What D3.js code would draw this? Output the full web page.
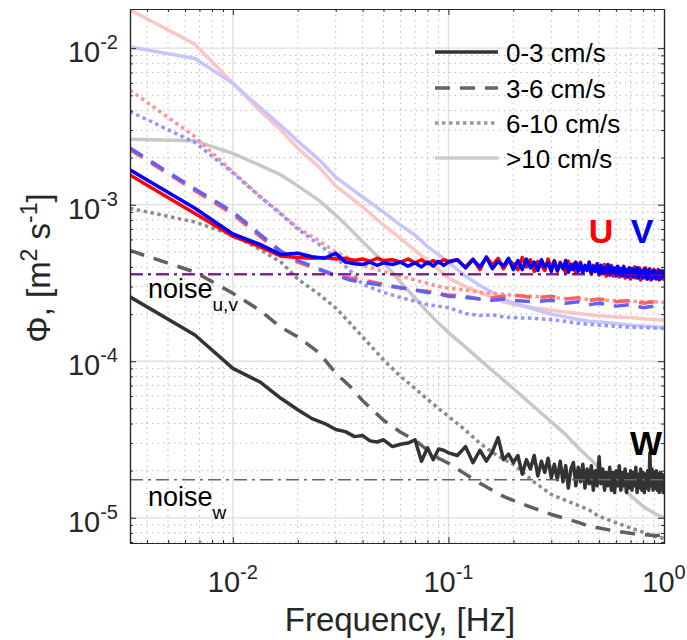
<!DOCTYPE html>
<html>
<head>
<meta charset="utf-8">
<script src="https://cdn.jsdelivr.net/npm/d3@7"></script>
<style>
  body { margin: 0; background: #fff; }
  svg text { font-family: "Liberation Sans", Arial, Helvetica, sans-serif; fill: #262626; }
</style>
</head>
<body>
<script>
// ---- data ----
const X_DOMAIN = [1 / 300, 1];
const Y_DOMAIN = [6.9e-6, 1.78e-2];

// fine frequency grid used by the 0-3 cm/s spectra
const FREQ = [0.00333, 0.00667, 0.01, 0.0133, 0.0167, 0.02, 0.0233, 0.0267, 0.03, 0.0333, 0.0367, 0.04, 0.0433, 0.0467, 0.05,
  0.055, 0.06, 0.065, 0.07, 0.075, 0.08, 0.085, 0.09, 0.095, 0.1,
  0.11, 0.12, 0.13, 0.14, 0.15, 0.16, 0.17, 0.18, 0.19, 0.2,
  0.21, 0.22, 0.23, 0.24, 0.25, 0.26, 0.27, 0.28, 0.29, 0.3,
  0.31, 0.32, 0.33, 0.34, 0.35, 0.36, 0.37, 0.38, 0.39, 0.4,
  0.41, 0.42, 0.43, 0.44, 0.45, 0.46, 0.47, 0.48, 0.49, 0.5,
  0.51, 0.52, 0.53, 0.54, 0.55, 0.56, 0.57, 0.58, 0.59, 0.6,
  0.61, 0.62, 0.63, 0.64, 0.65, 0.66, 0.67, 0.68, 0.69, 0.7,
  0.71, 0.72, 0.73, 0.74, 0.75, 0.76, 0.77, 0.78, 0.79, 0.8,
  0.81, 0.82, 0.83, 0.84, 0.85, 0.86, 0.87, 0.88, 0.89, 0.9,
  0.91, 0.92, 0.93, 0.94, 0.95, 0.96, 0.97, 0.98, 0.99, 1.0];

const U_0_3 = [1.55e-3, 8.8e-4, 6.3e-4, 5.4e-4, 4.7e-4, 4.6e-4, 4.55e-4, 4.6e-4, 4.5e-4, 4.55e-4, 4.4e-4, 4.5e-4, 4.35e-4, 4.55e-4, 4.4e-4,
  4.45e-4, 4.3e-4, 4.5e-4, 4.25e-4, 4.45e-4, 4.2e-4, 4.4e-4, 4.25e-4, 4.45e-4, 4.35e-4,
  4.45e-4, 4.0e-4, 4.5e-4, 3.85e-4, 4.65e-4, 4.1e-4, 4.55e-4, 3.9e-4, 4.4e-4, 4.2e-4,
  3.85e-4, 4.6e-4, 4.0e-4, 4.45e-4, 3.75e-4, 4.35e-4, 4.1e-4, 3.8e-4, 4.5e-4, 3.9e-4,
  4.4e-4, 3.75e-4, 4.3e-4, 3.95e-4, 3.7e-4, 4.35e-4, 3.85e-4, 4.2e-4, 3.65e-4, 4.1e-4,
  4.3e-4, 3.7e-4, 4.0e-4, 3.85e-4, 4.25e-4, 3.6e-4, 4.1e-4, 3.75e-4, 4.2e-4, 3.55e-4,
  4.05e-4, 3.7e-4, 4.15e-4, 3.5e-4, 3.95e-4, 3.75e-4, 4.1e-4, 3.5e-4, 3.9e-4, 3.65e-4,
  4.0e-4, 3.45e-4, 3.85e-4, 3.7e-4, 4.05e-4, 3.4e-4, 3.8e-4, 3.6e-4, 3.95e-4, 3.35e-4,
  3.85e-4, 3.6e-4, 4.0e-4, 3.4e-4, 3.75e-4, 3.55e-4, 3.95e-4, 3.3e-4, 3.8e-4, 3.5e-4,
  3.7e-4, 3.95e-4, 3.35e-4, 3.75e-4, 3.5e-4, 3.9e-4, 3.3e-4, 3.7e-4, 3.55e-4, 3.85e-4,
  3.4e-4, 3.75e-4, 3.5e-4, 3.85e-4, 3.3e-4, 3.65e-4, 3.45e-4, 3.8e-4, 3.35e-4, 3.6e-4];

const V_0_3 = [1.67e-3, 9.5e-4, 6.5e-4, 5.6e-4, 4.8e-4, 4.9e-4, 4.65e-4, 4.55e-4, 4.9e-4, 4.3e-4, 4.2e-4, 4.15e-4, 4.3e-4, 4.1e-4, 4.25e-4,
  4.15e-4, 4.3e-4, 4.05e-4, 4.25e-4, 4.0e-4, 4.3e-4, 4.05e-4, 4.35e-4, 4.1e-4, 4.3e-4,
  4.45e-4, 3.95e-4, 4.45e-4, 4.0e-4, 4.6e-4, 3.9e-4, 4.35e-4, 4.05e-4, 4.55e-4, 3.85e-4,
  4.4e-4, 3.85e-4, 4.5e-4, 3.95e-4, 4.3e-4, 3.8e-4, 4.45e-4, 4.0e-4, 4.25e-4, 3.75e-4,
  4.35e-4, 3.8e-4, 4.2e-4, 3.9e-4, 4.4e-4, 3.7e-4, 4.15e-4, 3.85e-4, 4.3e-4, 3.75e-4,
  4.2e-4, 3.7e-4, 4.1e-4, 3.8e-4, 4.3e-4, 3.65e-4, 4.05e-4, 3.75e-4, 4.2e-4, 3.6e-4,
  4.1e-4, 3.65e-4, 3.95e-4, 3.75e-4, 4.15e-4, 3.55e-4, 4.0e-4, 3.7e-4, 3.95e-4, 3.5e-4,
  4.05e-4, 3.6e-4, 3.9e-4, 3.5e-4, 4.0e-4, 3.55e-4, 3.85e-4, 3.45e-4, 3.95e-4, 3.55e-4,
  3.9e-4, 3.45e-4, 3.8e-4, 3.55e-4, 3.95e-4, 3.4e-4, 3.85e-4, 3.5e-4, 3.75e-4, 3.4e-4,
  3.9e-4, 3.45e-4, 3.75e-4, 3.35e-4, 3.85e-4, 3.5e-4, 3.7e-4, 3.35e-4, 3.8e-4, 3.45e-4,
  3.75e-4, 3.35e-4, 3.7e-4, 3.5e-4, 3.8e-4, 3.35e-4, 3.65e-4, 3.45e-4, 3.75e-4, 3.4e-4];

const W_0_3 = [2.58e-4, 1.47e-4, 9.0e-5, 7.4e-5, 5.8e-5, 4.9e-5, 4.3e-5, 4.0e-5, 3.66e-5, 3.55e-5, 3.3e-5, 3.35e-5, 3.1e-5, 3.05e-5, 3.15e-5,
  2.85e-5, 2.95e-5, 3.0e-5, 3.15e-5, 2.3e-5, 2.8e-5, 2.35e-5, 2.75e-5, 2.7e-5, 2.6e-5,
  2.5e-5, 2.85e-5, 2.25e-5, 2.7e-5, 2.3e-5, 2.65e-5, 3.25e-5, 2.35e-5, 2.55e-5, 2.25e-5,
  2.5e-5, 1.9e-5, 2.35e-5, 2.05e-5, 2.5e-5, 1.85e-5, 2.3e-5, 1.95e-5, 2.4e-5, 1.8e-5,
  2.2e-5, 1.75e-5, 2.3e-5, 1.7e-5, 2.15e-5, 1.55e-5, 2.05e-5, 2.25e-5, 1.6e-5, 2.1e-5,
  1.7e-5, 2.2e-5, 1.55e-5, 2.05e-5, 1.65e-5, 2.15e-5, 1.5e-5, 2.0e-5, 1.6e-5, 2.45e-5,
  1.65e-5, 2.05e-5, 1.5e-5, 1.95e-5, 1.6e-5, 2.1e-5, 1.5e-5, 1.95e-5, 1.45e-5, 2.0e-5,
  1.6e-5, 2.15e-5, 1.5e-5, 1.95e-5, 1.6e-5, 2.05e-5, 1.45e-5, 1.9e-5, 1.55e-5, 2.0e-5,
  1.5e-5, 1.95e-5, 1.6e-5, 2.1e-5, 1.45e-5, 1.9e-5, 1.55e-5, 2.05e-5, 1.5e-5, 1.95e-5,
  1.45e-5, 1.9e-5, 1.55e-5, 2.0e-5, 1.5e-5, 2.6e-5, 1.6e-5, 2.05e-5, 1.5e-5, 1.95e-5,
  1.55e-5, 2.0e-5, 1.5e-5, 1.9e-5, 1.45e-5, 1.95e-5, 1.55e-5, 1.9e-5, 1.45e-5, 1.8e-5];

// coarser grid for the other speed classes
const FREQ_MID = [0.00333, 0.00667, 0.01, 0.0133, 0.0167, 0.02, 0.025, 0.03, 0.035, 0.04, 0.05, 0.06, 0.07, 0.08, 0.09, 0.1,
  0.12, 0.14, 0.16, 0.18, 0.2, 0.25, 0.3, 0.35, 0.4, 0.45, 0.5, 0.6, 0.7, 0.8, 0.9, 1.0];

const U_3_6 = [2.25e-3, 1.23e-3, 8.7e-4, 6.3e-4, 4.9e-4, 4.3e-4, 3.85e-4, 3.5e-4, 3.4e-4, 3.3e-4, 3.1e-4, 2.95e-4, 2.85e-4, 2.8e-4, 2.7e-4, 2.65e-4,
  2.6e-4, 2.5e-4, 2.55e-4, 2.6e-4, 2.65e-4, 2.55e-4, 2.6e-4, 2.5e-4, 2.55e-4, 2.45e-4, 2.5e-4, 2.4e-4, 2.45e-4, 2.35e-4, 2.4e-4, 2.35e-4];
const V_3_6 = [2.3e-3, 1.26e-3, 9.0e-4, 6.5e-4, 5.05e-4, 4.4e-4, 3.9e-4, 3.55e-4, 3.3e-4, 3.2e-4, 3.05e-4, 2.95e-4, 2.85e-4, 2.75e-4, 2.7e-4, 2.6e-4,
  2.55e-4, 2.5e-4, 2.45e-4, 2.5e-4, 2.45e-4, 2.4e-4, 2.45e-4, 2.35e-4, 2.4e-4, 2.3e-4, 2.35e-4, 2.25e-4, 2.3e-4, 2.2e-4, 2.25e-4, 2.2e-4];
const W_3_6 = [5.1e-4, 3.71e-4, 2.72e-4, 2.12e-4, 1.65e-4, 1.43e-4, 1.14e-4, 8.4e-5, 6.9e-5, 5.6e-5, 4.2e-5, 3.52e-5, 3.13e-5, 2.7e-5, 2.4e-5, 2.23e-5,
  1.9e-5, 1.66e-5, 1.5e-5, 1.37e-5, 1.29e-5, 1.15e-5, 1.05e-5, 9.9e-6, 9.35e-6, 8.8e-6, 8.6e-6, 8.2e-6, 7.96e-6, 7.8e-6, 7.7e-6, 7.7e-6];

const U_6_10 = [5.4e-3, 2.72e-3, 1.62e-3, 1.14e-3, 8.8e-4, 7.1e-4, 5.9e-4, 5.0e-4, 4.5e-4, 4.1e-4, 3.75e-4, 3.5e-4, 3.3e-4, 3.15e-4, 3.0e-4, 2.93e-4,
  2.85e-4, 2.75e-4, 2.72e-4, 2.68e-4, 2.63e-4, 2.6e-4, 2.55e-4, 2.52e-4, 2.5e-4, 2.48e-4, 2.46e-4, 2.44e-4, 2.42e-4, 2.4e-4, 2.4e-4, 2.38e-4];
const V_6_10 = [3.94e-3, 2.5e-3, 1.6e-3, 1.13e-3, 8.7e-4, 7.0e-4, 5.6e-4, 4.6e-4, 3.8e-4, 3.1e-4, 2.75e-4, 2.55e-4, 2.42e-4, 2.3e-4, 2.25e-4, 2.2e-4,
  2.02e-4, 1.96e-4, 1.98e-4, 1.92e-4, 1.9e-4, 1.88e-4, 1.84e-4, 1.8e-4, 1.75e-4, 1.72e-4, 1.7e-4, 1.67e-4, 1.65e-4, 1.64e-4, 1.63e-4, 1.62e-4];
const W_6_10 = [9.5e-4, 7.75e-4, 6.4e-4, 5.2e-4, 4.3e-4, 3.35e-4, 2.69e-4, 2.19e-4, 1.75e-4, 1.43e-4, 1.02e-4, 8.0e-5, 6.7e-5, 5.7e-5, 5.0e-5, 4.45e-5,
  3.62e-5, 2.99e-5, 2.62e-5, 2.37e-5, 2.2e-5, 1.69e-5, 1.41e-5, 1.29e-5, 1.2e-5, 1.12e-5, 1.02e-5, 9.3e-6, 8.6e-6, 8.1e-6, 7.6e-6, 7.4e-6];

const U_10 = [1.76e-2, 1.06e-2, 5.97e-3, 4.0e-3, 3.0e-3, 2.3e-3, 1.75e-3, 1.32e-3, 1.12e-3, 9.7e-4, 7.4e-4, 6.1e-4, 5.1e-4, 4.4e-4, 3.85e-4, 3.4e-4,
  3.0e-4, 2.75e-4, 2.55e-4, 2.4e-4, 2.3e-4, 2.2e-4, 2.12e-4, 2.06e-4, 2.02e-4, 1.98e-4, 1.95e-4, 1.92e-4, 1.9e-4, 1.87e-4, 1.85e-4, 1.83e-4];
const V_10 = [1.02e-2, 8.6e-3, 5.97e-3, 4.2e-3, 3.2e-3, 2.55e-3, 1.95e-3, 1.5e-3, 1.28e-3, 1.12e-3, 8.97e-4, 7.4e-4, 6.4e-4, 5.4e-4, 4.8e-4, 4.3e-4,
  3.5e-4, 3.05e-4, 2.75e-4, 2.5e-4, 2.35e-4, 2.15e-4, 2.0e-4, 1.92e-4, 1.85e-4, 1.8e-4, 1.78e-4, 1.74e-4, 1.7e-4, 1.68e-4, 1.66e-4, 1.65e-4];
const W_10 = [2.62e-3, 2.56e-3, 2.13e-3, 1.79e-3, 1.55e-3, 1.32e-3, 1.07e-3, 8.6e-4, 7.0e-4, 5.8e-4, 4.3e-4, 3.2e-4, 2.53e-4, 2.06e-4, 1.75e-4, 1.53e-4,
  1.23e-4, 1.02e-4, 8.7e-5, 7.6e-5, 6.7e-5, 5.1e-5, 4.1e-5, 3.4e-5, 2.8e-5, 2.4e-5, 2.1e-5, 1.69e-5, 1.39e-5, 1.18e-5, 1.07e-5, 1.0e-5];

const NOISE_UV = 3.6e-4;
const NOISE_W = 1.75e-5;

const X_TICKS = [0.01, 0.1, 1];
const X_TICK_EXP = ['-2', '-1', '0'];
const Y_TICKS = [1e-5, 1e-4, 1e-3, 1e-2];
const Y_TICK_EXP = ['-5', '-4', '-3', '-2'];
const LEGEND_LABELS = ['0-3 cm/s', '3-6 cm/s', '6-10 cm/s', '>10 cm/s'];

// ---- chart ----
const w = 687, h = 640;
const pLeft = 130, pRight = 664, pTop = 9, pBottom = 543;

const svg = d3.select('body').append('svg')
  .attr('width', w)
  .attr('height', h);

const x = d3.scaleLog().domain(X_DOMAIN).range([pLeft, pRight]);
const y = d3.scaleLog().domain(Y_DOMAIN).range([pBottom, pTop]);

const isDecade = v => Math.abs(Math.log10(v) - Math.round(Math.log10(v))) < 1e-6;
const xMinor = x.ticks().filter(t => !isDecade(t) && t > X_DOMAIN[0] && t < X_DOMAIN[1]);
const yMinor = y.ticks().filter(t => !isDecade(t) && t > Y_DOMAIN[0] && t < Y_DOMAIN[1]);

// grid
const grid = svg.append('g');
grid.selectAll('.gx-minor').data(xMinor).enter().append('line')
  .attr('x1', d => x(d)).attr('x2', d => x(d)).attr('y1', pTop).attr('y2', pBottom)
  .attr('stroke', '#bcbcbc').attr('stroke-dasharray', '1.5,4').attr('stroke-width', 1);
grid.selectAll('.gy-minor').data(yMinor).enter().append('line')
  .attr('y1', d => y(d)).attr('y2', d => y(d)).attr('x1', pLeft).attr('x2', pRight)
  .attr('stroke', '#bcbcbc').attr('stroke-dasharray', '1.5,4').attr('stroke-width', 1);
grid.selectAll('.gx').data(X_TICKS.slice(0, -1)).enter().append('line')
  .attr('x1', d => x(d)).attr('x2', d => x(d)).attr('y1', pTop).attr('y2', pBottom)
  .attr('stroke', '#dedede').attr('stroke-width', 1.3);
grid.selectAll('.gy').data(Y_TICKS).enter().append('line')
  .attr('y1', d => y(d)).attr('y2', d => y(d)).attr('x1', pLeft).attr('x2', pRight)
  .attr('stroke', '#dedede').attr('stroke-width', 1.3);

// clip
svg.append('clipPath').attr('id', 'plot-clip')
  .append('rect').attr('x', pLeft).attr('y', pTop).attr('width', pRight - pLeft).attr('height', pBottom - pTop);

const DASHED = '15,10';
const DOTTED = '3.5,3.5';

const SERIES = [
  { f: FREQ_MID, v: U_10, color: '#ffc4c4', dash: null },
  { f: FREQ_MID, v: V_10, color: '#c6c6ff', dash: null },
  { f: FREQ_MID, v: W_10, color: '#c8c8c8', dash: null },
  { f: FREQ_MID, v: U_6_10, color: '#ff9494', dash: DOTTED },
  { f: FREQ_MID, v: V_6_10, color: '#9494ff', dash: DOTTED },
  { f: FREQ_MID, v: W_6_10, color: '#8c8c8c', dash: DOTTED },
  { f: FREQ_MID, v: U_3_6, color: '#ff6060', dash: DASHED },
  { f: FREQ_MID, v: V_3_6, color: '#6060ff', dash: DASHED },
  { f: FREQ_MID, v: W_3_6, color: '#606060', dash: DASHED },
  { f: FREQ, v: U_0_3, color: '#ff0000', dash: null },
  { f: FREQ, v: V_0_3, color: '#0000ff', dash: null },
  { f: FREQ, v: W_0_3, color: '#333333', dash: null }
];

const line = d3.line().x(d => x(d[0])).y(d => y(d[1]));
const plot = svg.append('g').attr('clip-path', 'url(#plot-clip)');

SERIES.forEach(s => {
  plot.append('path')
    .datum(s.f.map((f, i) => [f, s.v[i]]))
    .attr('d', line)
    .attr('fill', 'none')
    .attr('stroke', s.color)
    .attr('stroke-width', 3.5)
    .attr('stroke-linejoin', 'round')
    .attr('stroke-dasharray', s.dash);
});

// noise levels
const DASHDOT = '13,5,3,5';
plot.append('line')
  .attr('x1', x(X_DOMAIN[0])).attr('x2', x(X_DOMAIN[1]))
  .attr('y1', y(NOISE_UV) + 0.7).attr('y2', y(NOISE_UV) + 0.7)
  .attr('stroke', '#ff0000').attr('stroke-width', 1.4).attr('stroke-dasharray', DASHDOT);
plot.append('line')
  .attr('x1', x(X_DOMAIN[0])).attr('x2', x(X_DOMAIN[1]))
  .attr('y1', y(NOISE_UV) - 0.3).attr('y2', y(NOISE_UV) - 0.3)
  .attr('stroke', '#0000ff').attr('stroke-width', 1.4).attr('stroke-dasharray', DASHDOT);
plot.append('line')
  .attr('x1', x(X_DOMAIN[0])).attr('x2', x(X_DOMAIN[1]))
  .attr('y1', y(NOISE_W)).attr('y2', y(NOISE_W))
  .attr('stroke', '#666666').attr('stroke-width', 1.5).attr('stroke-dasharray', DASHDOT);

// noise labels
const nuv = svg.append('text').attr('x', 148).attr('y', y(NOISE_UV) + 24)
  .attr('font-size', 27).style('fill', '#000');
nuv.append('tspan').text('noise');
nuv.append('tspan').attr('dy', 13).attr('font-size', 19).text('u,v');

const nw = svg.append('text').attr('x', 148).attr('y', y(NOISE_W) + 26)
  .attr('font-size', 27).style('fill', '#000');
nw.append('tspan').text('noise');
nw.append('tspan').attr('dy', 13).attr('font-size', 19).text('w');

// component labels
svg.append('text').attr('x', 601).attr('y', 243).attr('text-anchor', 'middle')
  .attr('font-size', 34).attr('font-weight', 'bold').style('fill', '#ff0000').text('U');
svg.append('text').attr('x', 642).attr('y', 243).attr('text-anchor', 'middle')
  .attr('font-size', 34).attr('font-weight', 'bold').style('fill', '#0000ff').text('V');
svg.append('text').attr('x', 646).attr('y', 455).attr('text-anchor', 'middle')
  .attr('font-size', 34).attr('font-weight', 'bold').style('fill', '#000').text('W');

// axes (ticks inside, box)
const axes = svg.append('g').attr('fill', 'none');
const tickAxis = (gen, scale, vals, size, tr) => {
  axes.append('g').attr('transform', tr)
    .call(gen(scale).tickValues(vals).tickSize(-size).tickSizeOuter(0).tickFormat(''))
    .call(g => g.select('.domain').attr('stroke', '#262626').attr('stroke-width', 1.2))
    .call(g => g.selectAll('.tick line').attr('stroke', '#262626'));
};
tickAxis(d3.axisBottom, x, X_TICKS, 6, `translate(0,${pBottom})`);
tickAxis(d3.axisBottom, x, xMinor, 3, `translate(0,${pBottom})`);
tickAxis(d3.axisTop, x, X_TICKS, 6, `translate(0,${pTop})`);
tickAxis(d3.axisTop, x, xMinor, 3, `translate(0,${pTop})`);
tickAxis(d3.axisLeft, y, Y_TICKS, 6, `translate(${pLeft},0)`);
tickAxis(d3.axisLeft, y, yMinor, 3, `translate(${pLeft},0)`);
tickAxis(d3.axisRight, y, Y_TICKS, 6, `translate(${pRight},0)`);
tickAxis(d3.axisRight, y, yMinor, 3, `translate(${pRight},0)`);

// tick labels
X_TICKS.forEach((t, i) => {
  const tx = svg.append('text').attr('x', x(t)).attr('y', 592)
    .attr('text-anchor', 'middle').attr('font-size', 29);
  tx.append('tspan').text('10');
  tx.append('tspan').attr('dy', -13).attr('font-size', 20).text(X_TICK_EXP[i]);
});
Y_TICKS.forEach((t, i) => {
  const ty = svg.append('text').attr('x', 118).attr('y', y(t) + 14)
    .attr('text-anchor', 'end').attr('font-size', 29);
  ty.append('tspan').text('10');
  ty.append('tspan').attr('dy', -13).attr('font-size', 20).text(Y_TICK_EXP[i]);
});

// axis titles
svg.append('text').attr('x', 400).attr('y', 631).attr('text-anchor', 'middle')
  .attr('font-size', 33).text('Frequency, [Hz]');

const yl = svg.append('text')
  .attr('transform', 'translate(50,268) rotate(-90)')
  .attr('text-anchor', 'middle').attr('font-size', 33);
yl.append('tspan').text('\u03A6, [m');
yl.append('tspan').attr('dy', -13).attr('font-size', 23).text('2');
yl.append('tspan').attr('dy', 13).text(' s');
yl.append('tspan').attr('dy', -13).attr('font-size', 23).text('-1');
yl.append('tspan').attr('dy', 13).text(']');

// legend
const LEGEND_STYLE = [
  { color: '#333333', dash: null },
  { color: '#666666', dash: DASHED },
  { color: '#999999', dash: DOTTED },
  { color: '#cccccc', dash: null }
];
const legendY = [52, 88, 123, 158];
const legend = svg.append('g');
LEGEND_LABELS.forEach((lab, i) => {
  legend.append('line')
    .attr('x1', 435).attr('x2', 498).attr('y1', legendY[i]).attr('y2', legendY[i])
    .attr('stroke', LEGEND_STYLE[i].color).attr('stroke-width', 3.5)
    .attr('stroke-dasharray', LEGEND_STYLE[i].dash);
  legend.append('text').attr('x', 506).attr('y', legendY[i] + 10)
    .attr('font-size', 26).style('fill', '#000').text(lab);
});
</script>
</body>
</html>
